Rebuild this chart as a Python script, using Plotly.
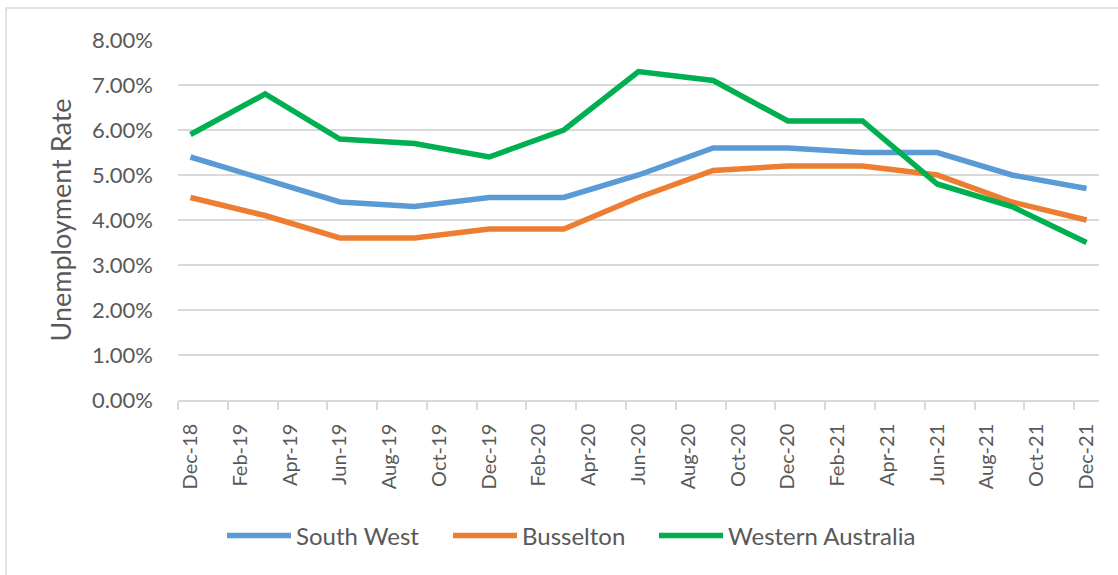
import plotly.graph_objects as go
import pandas as pd

# Quarterly observations (month labels)
periods = ["Dec-18", "Mar-19", "Jun-19", "Sep-19", "Dec-19", "Mar-20", "Jun-20",
           "Sep-20", "Dec-20", "Mar-21", "Jun-21", "Sep-21", "Dec-21"]
south_west = [5.4, 4.9, 4.4, 4.3, 4.5, 4.5, 5.0, 5.6, 5.6, 5.5, 5.5, 5.0, 4.7]
busselton = [4.5, 4.1, 3.6, 3.6, 3.8, 3.8, 4.5, 5.1, 5.2, 5.2, 5.0, 4.4, 4.0]
western_australia = [5.9, 6.8, 5.8, 5.7, 5.4, 6.0, 7.3, 7.1, 6.2, 6.2, 4.8, 4.3, 3.5]

tick_labels = ["Dec-18", "Feb-19", "Apr-19", "Jun-19", "Aug-19", "Oct-19", "Dec-19",
               "Feb-20", "Apr-20", "Jun-20", "Aug-20", "Oct-20", "Dec-20", "Feb-21",
               "Apr-21", "Jun-21", "Aug-21", "Oct-21", "Dec-21"]

series_names = ["South West", "Busselton", "Western Australia"]
series_values = [south_west, busselton, western_australia]
colors = ["#5B9BD5", "#ED7D31", "#00B050"]
legend_ids = ["legend", "legend2", "legend3"]
legend_left_px = [227, 453, 659]


def month_index(label):
    d = pd.to_datetime(label, format="%b-%y")
    return (d.year - 2018) * 12 + d.month - 12


x_vals = [month_index(p) for p in periods]
tick_vals = [month_index(t) for t in tick_labels]

FONT = "Lato, Calibri, Carlito, 'Liberation Sans', sans-serif"
TXT = "#595959"
GRID = "#D9D9D9"

L, R, T, B = 178, 1099, 40, 400
W, H = 1118, 575
pw, ph = R - L, B - T


def px(xp):
    return (xp - L) / pw


def py(yp):
    return (B - yp) / ph


fig = go.Figure()
for name, vals, c, lg in zip(series_names, series_values, colors, legend_ids):
    fig.add_trace(go.Scatter(x=x_vals, y=vals, mode="lines", name=name, legend=lg,
                             line=dict(color=c, width=5.5)))

legend_common = dict(orientation="h", yanchor="middle", y=py(536), xanchor="left",
                     font=dict(size=24, color=TXT, family=FONT), itemwidth=64,
                     bgcolor="rgba(0,0,0,0)", borderwidth=0)
legends = {}
for lg, lx in zip(legend_ids, legend_left_px):
    legends[lg] = dict(legend_common, x=px(lx - 5))

fig.update_layout(
    width=W, height=H,
    margin=dict(l=L, r=W - R, t=T, b=H - B, pad=0),
    paper_bgcolor="white", plot_bgcolor="white",
    font=dict(family=FONT, color=TXT),
    showlegend=True,
    **legends,
    xaxis=dict(range=[-0.5, 36.5], tickmode="array", tickvals=tick_vals, ticktext=tick_labels,
               tickangle=-90, showgrid=False, zeroline=False,
               showline=True, linecolor=GRID, linewidth=1.5,
               ticks="outside", ticklen=8, tickcolor="rgba(0,0,0,0)",
               ticklabelstandoff=6,
               tickfont=dict(size=20, color=TXT, family=FONT),
               minor=dict(tickmode="linear", tick0=-0.5, dtick=2, ticks="outside",
                          ticklen=8, tickcolor=GRID, tickwidth=1.5, showgrid=False),
               fixedrange=True),
    yaxis=dict(range=[0, 8], tickmode="linear", tick0=0, dtick=1, tickformat=".2f",
               ticksuffix="%", showgrid=True, gridcolor=GRID, gridwidth=1.5,
               zeroline=False, showline=False, ticks="",
               ticklabelstandoff=24,
               tickfont=dict(size=22, color=TXT, family=FONT),
               title=dict(text="Unemployment Rate", font=dict(size=27, color=TXT, family=FONT),
                          standoff=12),
               fixedrange=True),
    shapes=[dict(type="rect", xref="paper", yref="paper",
                 x0=px(6), x1=px(1125), y0=py(585), y1=py(8),
                 line=dict(color=GRID, width=1.5), fillcolor="rgba(0,0,0,0)", layer="below")],
)

fig.write_html("out.html", config={"displayModeBar": False},
               post_script="document.body.style.margin='0px';document.body.style.overflow='hidden';")
